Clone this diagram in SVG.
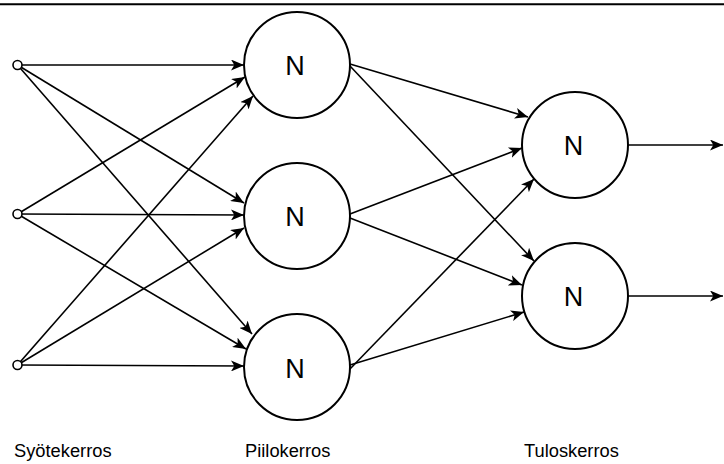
<svg xmlns="http://www.w3.org/2000/svg" width="724" height="464" viewBox="0 0 724 464">
<style>
.edge{stroke:#000;stroke-width:1.6;fill:none;marker-end:url(#arr)}
.node{fill:#fff;stroke:#000;stroke-width:2}
.inp{fill:#fff;stroke:#000;stroke-width:1.6}
.n{font-family:"Liberation Sans",Arial,sans-serif;font-size:27px;text-anchor:middle;fill:#000}
.lbl{font-family:"Liberation Sans",Arial,sans-serif;font-size:18.3px;fill:#000}
</style>
<defs>
<marker id="arr" viewBox="0 0 13 11" refX="13" refY="5.5" markerWidth="13" markerHeight="11" markerUnits="userSpaceOnUse" orient="auto">
<path d="M0,0 L13,5.5 L0,11 L3.3,5.5 Z" fill="#000"/>
</marker>
</defs>
<rect width="724" height="464" fill="#fff"/>
<line x1="0" y1="4.3" x2="724" y2="4.3" stroke="#000" stroke-width="2"/>
<g id="connectors">
<line class="edge" x1="17.5" y1="65" x2="244" y2="65"/>
<line class="edge" x1="17.5" y1="214" x2="245" y2="77"/>
<line class="edge" x1="17.5" y1="365" x2="253" y2="96"/>
<line class="edge" x1="17.5" y1="65" x2="244" y2="203"/>
<line class="edge" x1="17.5" y1="214" x2="244" y2="215"/>
<line class="edge" x1="17.5" y1="365" x2="244" y2="228"/>
<line class="edge" x1="17.5" y1="65" x2="252" y2="334"/>
<line class="edge" x1="17.5" y1="214" x2="246" y2="349"/>
<line class="edge" x1="17.5" y1="365" x2="244" y2="366"/>
<line class="edge" x1="350" y1="64" x2="528" y2="117"/>
<line class="edge" x1="350" y1="66" x2="534" y2="261"/>
<line class="edge" x1="350" y1="214" x2="522" y2="148"/>
<line class="edge" x1="350" y1="218" x2="522" y2="285"/>
<line class="edge" x1="349" y1="370" x2="534" y2="179"/>
<line class="edge" x1="350" y1="365" x2="524" y2="312"/>
<line class="edge" x1="628" y1="145" x2="723" y2="145"/>
<line class="edge" x1="628" y1="296" x2="723" y2="296"/>
</g>
<g id="in1"><circle class="inp" cx="17.5" cy="65" r="4.5"/></g>
<g id="in2"><circle class="inp" cx="17.5" cy="214" r="4.5"/></g>
<g id="in3"><circle class="inp" cx="17.5" cy="365" r="4.5"/></g>
<g id="h1"><circle class="node" cx="297" cy="65" r="53"/><text class="n" x="295" y="75">N</text></g>
<g id="h2"><circle class="node" cx="297" cy="216" r="53"/><text class="n" x="295" y="226">N</text></g>
<g id="h3"><circle class="node" cx="297" cy="367" r="53"/><text class="n" x="295" y="378">N</text></g>
<g id="o1"><circle class="node" cx="575" cy="145" r="53"/><text class="n" x="573.5" y="155">N</text></g>
<g id="o2"><circle class="node" cx="575" cy="296" r="53"/><text class="n" x="573.5" y="306">N</text></g>
<g id="labels">
<text class="lbl" x="14" y="457">Syötekerros</text>
<text class="lbl" x="245" y="457">Piilokerros</text>
<text class="lbl" x="524" y="457">Tuloskerros</text>
</g>
</svg>
